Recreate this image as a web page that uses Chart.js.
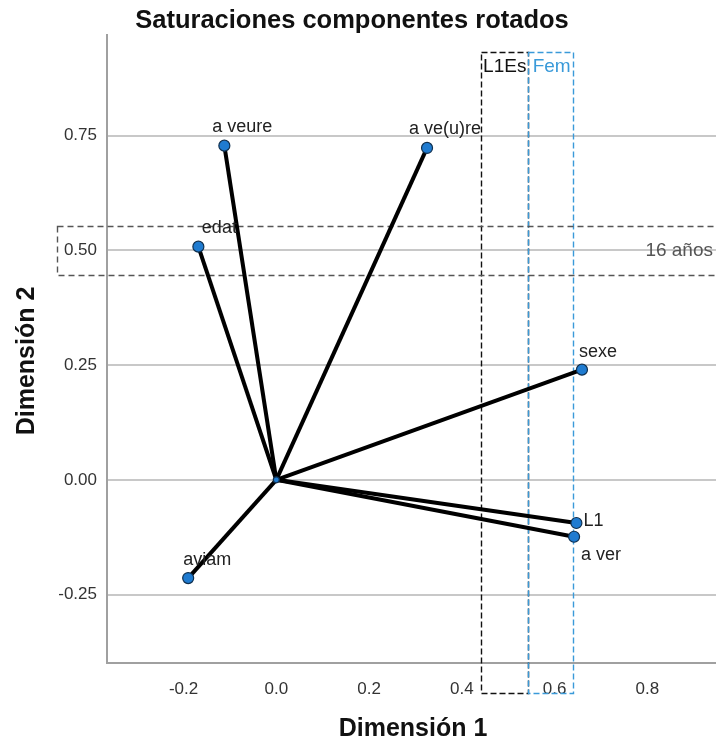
<!DOCTYPE html>
<html>
<head>
<meta charset="utf-8">
<script src="https://cdn.jsdelivr.net/npm/chart.js@4/dist/chart.umd.min.js"></script>
<style>
  html, body { margin: 0; padding: 0; background: #fff; }
  canvas { display: block; }
</style>
</head>
<body>
<canvas id="c" width="716" height="743"></canvas>
<script>
// Rotated component loadings (Dimensión 1, Dimensión 2)
const variables = ['a veure', 'a ve(u)re', 'edat', 'sexe', 'L1', 'a ver', 'aviam'];
const dim1 = [-0.112, 0.325, -0.168, 0.659, 0.647, 0.642, -0.190];
const dim2 = [0.728, 0.723, 0.508, 0.240, -0.094, -0.124, -0.214];

// Axis ticks
const xTicks = [-0.2, 0.0, 0.2, 0.4, 0.6, 0.8];
const yTicks = [-0.25, 0.0, 0.25, 0.50, 0.75];

// Category reference bands: [x from, x to] / [y from, y to]
const bandLabels = ['L1Es', 'Fem', '16 años'];
const bandX = [[0.442, 0.543], [0.543, 0.640], [-0.472, 0.96]];
const bandY = [[-0.464, 0.932], [-0.464, 0.932], [0.447, 0.553]];

const FONT = '"Liberation Sans", Arial, Helvetica, sans-serif';

// label offsets in pixels from each point (centre of text)
const labelOffsets = [
  [18, -19, 'center'], [18, -19, 'center'], [21, -19, 'center'],
  [16, -18, 'center'], [7, -2, 'left'], [7, 18, 'left'], [19, -18, 'center']
];

const vectorSets = variables.map((name, i) => ({
  label: name,
  data: [{x: 0, y: 0}, {x: dim1[i], y: dim2[i]}],
  showLine: true,
  borderColor: '#000',
  borderWidth: 4,
  pointRadius: 0,
  order: 1
}));

const pointSet = {
  label: 'points',
  data: [{x: 0, y: 0}].concat(variables.map((n, i) => ({x: dim1[i], y: dim2[i]}))),
  showLine: false,
  pointRadius: [3].concat(variables.map(() => 5.5)),
  pointBackgroundColor: '#1f7bd0',
  pointBorderColor: '#10304f',
  pointBorderWidth: 1.2,
  order: 0
};

const bandPlugin = {
  id: 'bands',
  beforeDatasetsDraw(chart) {
    const {ctx, scales: {x, y}} = chart;
    const styles = [
      {color: '#111', dash: [6, 3]},
      {color: '#3a9ad9', dash: [6, 3]},
      {color: '#555', dash: [6, 4]}
    ];
    ctx.save();
    bandLabels.forEach((lab, i) => {
      const x0 = x.getPixelForValue(bandX[i][0]);
      const x1 = x.getPixelForValue(bandX[i][1]);
      const y0 = y.getPixelForValue(bandY[i][1]);
      const y1 = y.getPixelForValue(bandY[i][0]);
      ctx.strokeStyle = styles[i].color;
      ctx.setLineDash(styles[i].dash);
      ctx.lineWidth = 1.4;
      ctx.strokeRect(Math.round(x0) + 0.5, Math.round(y0) + 0.5, Math.round(x1 - x0), Math.round(y1 - y0));
    });
    ctx.restore();
  },
  afterDatasetsDraw(chart) {
    const {ctx, scales: {x, y}} = chart;
    ctx.save();
    ctx.textBaseline = 'middle';
    // band captions
    ctx.font = '19px ' + FONT;
    ctx.textAlign = 'center';
    ctx.fillStyle = '#111';
    ctx.fillText(bandLabels[0], (x.getPixelForValue(bandX[0][0]) + x.getPixelForValue(bandX[0][1])) / 2, 67);
    ctx.fillStyle = '#3a9ad9';
    ctx.fillText(bandLabels[1], (x.getPixelForValue(bandX[1][0]) + x.getPixelForValue(bandX[1][1])) / 2 + 1, 67);
    ctx.fillStyle = '#555';
    ctx.textAlign = 'right';
    ctx.fillText(bandLabels[2], 713, (y.getPixelForValue(bandY[2][0]) + y.getPixelForValue(bandY[2][1])) / 2);
    // point labels
    ctx.font = '18px ' + FONT;
    ctx.fillStyle = '#222';
    variables.forEach((name, i) => {
      const px = x.getPixelForValue(dim1[i]);
      const py = y.getPixelForValue(dim2[i]);
      const [dx, dy, al] = labelOffsets[i];
      ctx.textAlign = al;
      ctx.fillText(name, px + dx, py + dy);
    });
    ctx.restore();
  },
  afterDraw(chart) {
    const {ctx} = chart;
    ctx.save();
    ctx.fillStyle = '#111';
    ctx.textAlign = 'center';
    ctx.textBaseline = 'middle';
    ctx.font = 'bold 25.5px ' + FONT;
    ctx.fillText('Saturaciones componentes rotados', 352, 21);
    ctx.font = 'bold 25px ' + FONT;
    ctx.fillText('Dimensión 1', 413, 729);
    ctx.translate(27, 361);
    ctx.rotate(-Math.PI / 2);
    ctx.fillText('Dimensión 2', 0, 0);
    ctx.restore();
  }
};

new Chart(document.getElementById('c'), {
  type: 'scatter',
  data: { datasets: vectorSets.concat([pointSet]) },
  options: {
    responsive: false,
    animation: false,
    devicePixelRatio: 1,
    layout: { autoPadding: false, padding: { top: 35, left: 0, right: 0, bottom: 0 } },
    plugins: { legend: { display: false }, tooltip: { enabled: false }, title: { display: false } },
    scales: {
      x: {
        type: 'linear',
        min: -0.365,
        max: 0.948,
        afterBuildTicks: s => { s.ticks = xTicks.map(v => ({value: v})); },
        afterFit: s => { s.height = 80; s.paddingLeft = 0; s.paddingRight = 0; },
        grid: { display: false, drawTicks: false },
        border: { display: true, color: '#a0a0a0', width: 2 },
        ticks: { padding: 16, color: '#333', font: { family: FONT, size: 17 }, callback: v => v.toFixed(1) }
      },
      y: {
        type: 'linear',
        min: -0.399,
        max: 0.969,
        afterBuildTicks: s => { s.ticks = yTicks.map(v => ({value: v})); },
        afterFit: s => { s.width = 107; s.paddingTop = 0; s.paddingBottom = 0; },
        grid: { color: '#c8c8c8', lineWidth: 2, drawTicks: false },
        border: { display: true, color: '#a0a0a0', width: 2 },
        ticks: { padding: 10, color: '#333', font: { family: FONT, size: 17 }, callback: v => v.toFixed(2) }
      }
    }
  },
  plugins: [bandPlugin]
});
</script>
</body>
</html>
